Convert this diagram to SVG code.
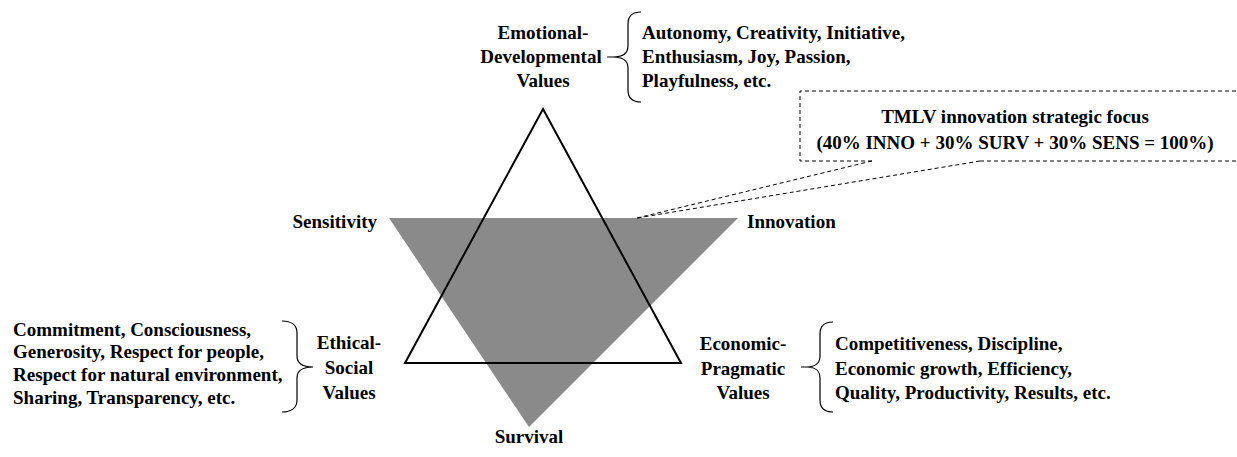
<svg xmlns="http://www.w3.org/2000/svg" width="1237" height="457" viewBox="0 0 1237 457">
<style>
text{font-family:"Liberation Serif","Times New Roman",serif;font-weight:bold;font-size:19px;fill:#000}
.c{text-anchor:middle}
.e{text-anchor:end}
.brace{fill:none;stroke:#000;stroke-width:1.2}
.dash{fill:none;stroke:#000;stroke-width:1;stroke-dasharray:4 3}
</style>
<rect width="1237" height="457" fill="#fff"/>
<g id="focus-triangle"><polygon points="389,218 738,218 529,427" fill="#8a8a8a"/></g>
<g id="values-triangle"><polygon points="543,109 681,363 405,363" fill="none" stroke="#000" stroke-width="2"/></g>
<g id="sensitivity"><text class="e" x="377" y="228">Sensitivity</text></g>
<g id="innovation"><text x="747" y="228">Innovation</text></g>
<g id="survival"><text class="c" x="529" y="443">Survival</text></g>
<g id="emotional">
<text class="c" x="543" y="39">Emotional-</text>
<text class="c" x="541" y="63">Developmental</text>
<text class="c" x="543" y="87">Values</text>
</g>
<g id="emotional-list">
<text x="642" y="39">Autonomy,  Creativity, Initiative,</text>
<text x="642" y="63">Enthusiasm,  Joy, Passion,</text>
<text x="642" y="87">Playfulness, etc.</text>
</g>
<g id="ethical">
<text class="c" x="349" y="349">Ethical-</text>
<text class="c" x="349" y="374">Social</text>
<text class="c" x="349" y="399">Values</text>
</g>
<g id="ethical-list">
<text x="13" y="336">Commitment,  Consciousness,</text>
<text x="13" y="358">Generosity, Respect for people,</text>
<text x="13" y="381">Respect for natural  environment,</text>
<text x="13" y="404">Sharing,  Transparency, etc.</text>
</g>
<g id="economic">
<text class="c" x="743" y="350">Economic-</text>
<text class="c" x="743" y="375">Pragmatic</text>
<text class="c" x="743" y="399">Values</text>
</g>
<g id="economic-list">
<text x="835" y="350">Competitiveness, Discipline,</text>
<text x="835" y="375">Economic  growth, Efficiency,</text>
<text x="835" y="399">Quality,  Productivity,  Results, etc.</text>
</g>
<g id="focus-callout">
<path class="dash" d="M872,161 L800,161 L800,91 L1240,91 M980,161 L1240,161"/>
<text class="c" x="1015" y="123">TMLV innovation strategic focus</text>
<text class="c" x="1015" y="149">(40% INNO + 30% SURV + 30% SENS = 100%)</text>
</g>
<g id="connectors">
<path class="dash" d="M872,161 L637,218 M980,161 L637,218"/>
<path class="brace" d="M641,12 C632,12 628,16 628,24 L628,46 C628,53 623,57 613,57 L607,57 M613,57 C623,57 628,61 628,68 L628,90 C628,98 632,102 641,102"/>
<path class="brace" d="M282,321 C291,321 297,325 297,333 L297,356 C297,363 302,367 313,367 C302,367 297,371 297,378 L297,400 C297,408 291,412 282,412"/>
<path class="brace" d="M833,322 C824,322 820,326 820,334 L820,356 C820,363 815,367 807,367 L801,367 M807,367 C815,367 820,371 820,378 L820,400 C820,408 824,412 833,412"/>
</g>
</svg>
